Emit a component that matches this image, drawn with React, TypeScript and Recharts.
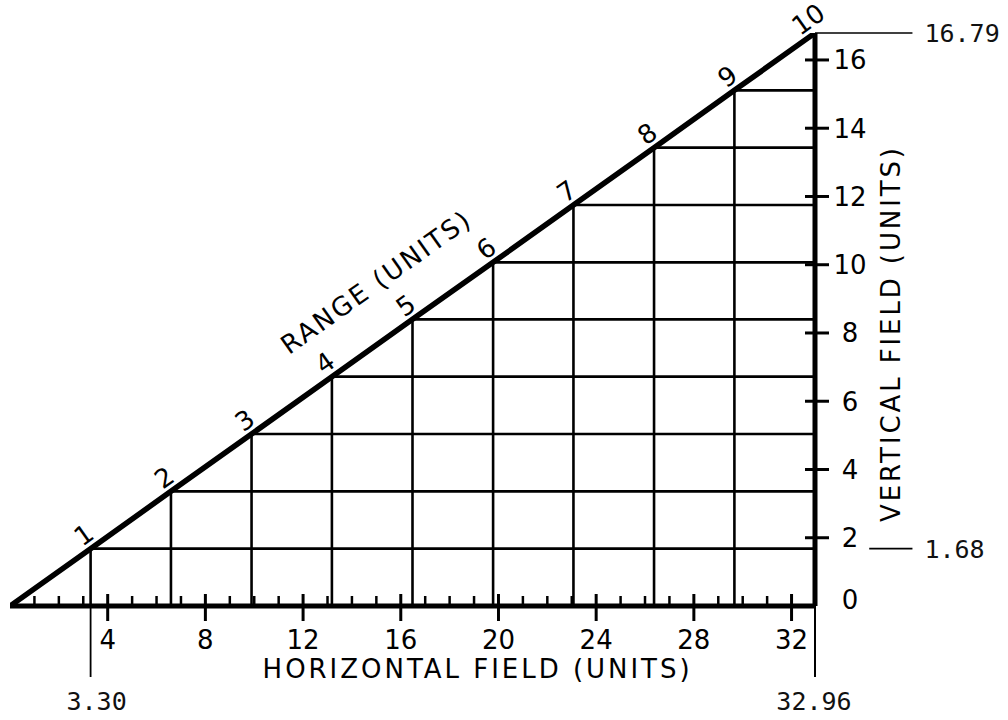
import React from 'react';
import { ComposedChart, Line, XAxis, YAxis, ReferenceLine, ReferenceDot, LabelList } from 'recharts';

// ---- data ----
const rangeMarks = [0, 1, 2, 3, 4, 5, 6, 7, 8, 9, 10];
const horizontalField = [0, 3.3, 6.59, 9.89, 13.18, 16.48, 19.78, 23.07, 26.37, 29.66, 32.96];
const verticalField = [0, 1.68, 3.36, 5.04, 6.72, 8.4, 10.07, 11.75, 13.43, 15.11, 16.79];
const xTicks = [1, 2, 3, 4, 5, 6, 7, 8, 9, 10, 11, 12, 13, 14, 15, 16, 17, 18, 19, 20, 21, 22, 23, 24, 25, 26, 27, 28, 29, 30, 31, 32];
const xLabeledTicks = [4, 8, 12, 16, 20, 24, 28, 32];
const yTicks = [0, 2, 4, 6, 8, 10, 12, 14, 16];
const horizontalCallouts = ['3.30', '32.96'];
const verticalCallouts = ['16.79', '1.68'];

const H_MAX = horizontalField[horizontalField.length - 1];
const V_MAX = verticalField[verticalField.length - 1];

const rows = rangeMarks.map((r, i) => ({ range: r, h: horizontalField[i], v: verticalField[i] }));

// ---- styling ----
const LETTER = '"DejaVu Sans", "Liberation Sans", sans-serif';
const TYPE = '"DejaVu Sans Mono", "Liberation Mono", monospace';
const INK = '#000';
const ANGLE = -35.4;

const XTick = (props: any) => {
  const { x, y, payload } = props;
  const v = payload.value;
  if (xLabeledTicks.includes(v)) {
    return (
      <g>
        <line x1={x} x2={x} y1={y - 12} y2={y + 15} stroke={INK} strokeWidth={3} />
        <text x={x} y={y + 43} textAnchor="middle" fontFamily={LETTER} fontSize={26} fill={INK}>
          {v}
        </text>
      </g>
    );
  }
  return <line x1={x} x2={x} y1={y} y2={y - 10} stroke={INK} strokeWidth={2.5} />;
};

const YTick = (props: any) => {
  const { x, y, payload } = props;
  const v = payload.value;
  return (
    <g>
      {v !== 0 && <line x1={x - 10} x2={x + 14} y1={y} y2={y} stroke={INK} strokeWidth={3} />}
      <text x={x + 35} y={y + 9.5 - (v === 0 ? 7 : 0)} textAnchor="middle" fontFamily={LETTER} fontSize={26} fill={INK}>
        {v}
      </text>
    </g>
  );
};

const RangeLabel = (props: any) => {
  const { x, y, value } = props;
  if (!value) return null;
  return (
    <text
      transform={`translate(${x - 7},${y - 14}) rotate(${ANGLE})`}
      x={0}
      y={0}
      dy="0.36em"
      textAnchor="middle"
      fontFamily={LETTER}
      fontSize={26}
      fill={INK}
    >
      {value}
    </text>
  );
};

const centerOf = (p: any) => {
  const vb = p.viewBox || {};
  return { cx: (vb.x ?? 0) + (vb.width ?? 0) / 2, cy: (vb.y ?? 0) + (vb.height ?? 0) / 2 };
};

const rangeTitle = (p: any) => {
  const { cx, cy } = centerOf(p);
  return (
    <text
      transform={`translate(${cx},${cy}) rotate(${ANGLE})`}
      x={0}
      y={-42.5}
      textAnchor="middle"
      fontFamily={LETTER}
      fontSize={26}
      fill={INK}
      textLength={225}
      lengthAdjust="spacing"
    >
      RANGE (UNITS)
    </text>
  );
};

const typedRight = (txt: string) => (p: any) => {
  const { cx, cy } = centerOf(p);
  return (
    <text x={cx + 12} y={cy + 9} textAnchor="start" fontFamily={TYPE} fontSize={25} fill="#111">
      {txt}
    </text>
  );
};

const typedBelow = (txt: string, dx: number) => (p: any) => {
  const { cx, cy } = centerOf(p);
  return (
    <text x={cx + dx} y={cy + 33} textAnchor="middle" fontFamily={TYPE} fontSize={25} fill="#111">
      {txt}
    </text>
  );
};

const xTitle = (p: any) => {
  const vb = p.viewBox || {};
  return (
    <text
      x={(vb.x ?? 0) + (vb.width ?? 0) * 0.579}
      y={(vb.y ?? 0) + 72}
      textAnchor="middle"
      fontFamily={LETTER}
      fontSize={26}
      fill={INK}
      textLength={427}
      lengthAdjust="spacing"
    >
      HORIZONTAL FIELD (UNITS)
    </text>
  );
};

const yTitle = (p: any) => {
  const vb = p.viewBox || {};
  const tx = (vb.x ?? 0) + 84.5;
  const ty = (vb.y ?? 0) + (vb.height ?? 0) * 0.527;
  return (
    <text
      transform={`translate(${tx},${ty}) rotate(-90)`}
      x={0}
      y={0}
      textAnchor="middle"
      fontFamily={LETTER}
      fontSize={26}
      fill={INK}
      textLength={374}
      lengthAdjust="spacing"
    >
      VERTICAL FIELD (UNITS)
    </text>
  );
};

const LEADER_END = 36.95;
const SHORT_LEADER_START = 35.18;
const DROP = -2.08;
const RANGE_TITLE_AT = 0.491;

export default function App() {
  const grid = rows.slice(1, rows.length - 1);
  return (
    <div style={{ position: 'absolute', left: 0, top: 0 }}>
      <ComposedChart
        width={1008}
        height={720}
        data={rows}
        margin={{ top: 33, right: 93, bottom: 54, left: 10 }}
      >
        <XAxis
          dataKey="h"
          type="number"
          domain={[0, H_MAX]}
          ticks={xTicks}
          interval={0}
          tickSize={0}
          tickMargin={0}
          tickLine={false}
          tick={<XTick />}
          height={60}
          axisLine={{ stroke: INK, strokeWidth: 5 }}
          allowDataOverflow
          label={xTitle}
        />
        <YAxis
          orientation="right"
          type="number"
          domain={[0, V_MAX]}
          ticks={yTicks}
          interval={0}
          tickSize={0}
          tickMargin={0}
          tickLine={false}
          tick={<YTick />}
          width={100}
          axisLine={{ stroke: INK, strokeWidth: 5 }}
          allowDataOverflow
          label={yTitle}
        />
        {grid.map((r) => (
          <ReferenceLine
            key={`v${r.range}`}
            segment={[{ x: r.h, y: 0 }, { x: r.h, y: r.v }]}
            stroke={INK}
            strokeWidth={2.6}
            ifOverflow="visible"
          />
        ))}
        {grid.map((r) => (
          <ReferenceLine
            key={`h${r.range}`}
            segment={[{ x: r.h, y: r.v }, { x: H_MAX, y: r.v }]}
            stroke={INK}
            strokeWidth={2.6}
            ifOverflow="visible"
          />
        ))}
        {/* callout leaders */}
        <ReferenceLine segment={[{ x: horizontalField[1], y: 0 }, { x: horizontalField[1], y: DROP }]} stroke={INK} strokeWidth={1.8} ifOverflow="visible" />
        <ReferenceLine segment={[{ x: H_MAX, y: 0 }, { x: H_MAX, y: DROP }]} stroke={INK} strokeWidth={2} ifOverflow="visible" />
        <ReferenceLine segment={[{ x: H_MAX, y: V_MAX }, { x: LEADER_END, y: V_MAX }]} stroke={INK} strokeWidth={1.6} ifOverflow="visible" />
        <ReferenceLine segment={[{ x: SHORT_LEADER_START, y: verticalField[1] }, { x: LEADER_END, y: verticalField[1] }]} stroke={INK} strokeWidth={1.6} ifOverflow="visible" />
        <ReferenceDot x={horizontalField[1]} y={DROP} r={0} fill="none" stroke="none" ifOverflow="visible" label={typedBelow(horizontalCallouts[0], 6)} />
        <ReferenceDot x={H_MAX} y={DROP} r={0} fill="none" stroke="none" ifOverflow="visible" label={typedBelow(horizontalCallouts[1], -1)} />
        <ReferenceDot x={LEADER_END} y={V_MAX} r={0} fill="none" stroke="none" ifOverflow="visible" label={typedRight(verticalCallouts[0])} />
        <ReferenceDot x={LEADER_END} y={verticalField[1]} r={0} fill="none" stroke="none" ifOverflow="visible" label={typedRight(verticalCallouts[1])} />
        <ReferenceDot x={H_MAX * RANGE_TITLE_AT} y={V_MAX * RANGE_TITLE_AT} r={0} fill="none" stroke="none" ifOverflow="visible" label={rangeTitle} />
        <Line
          dataKey="v"
          type="linear"
          stroke={INK}
          strokeWidth={5.5}
          strokeLinecap="round"
          strokeLinejoin="round"
          dot={false}
          activeDot={false}
          isAnimationActive={false}
        >
          <LabelList dataKey="range" content={<RangeLabel />} />
        </Line>
      </ComposedChart>
    </div>
  );
}
